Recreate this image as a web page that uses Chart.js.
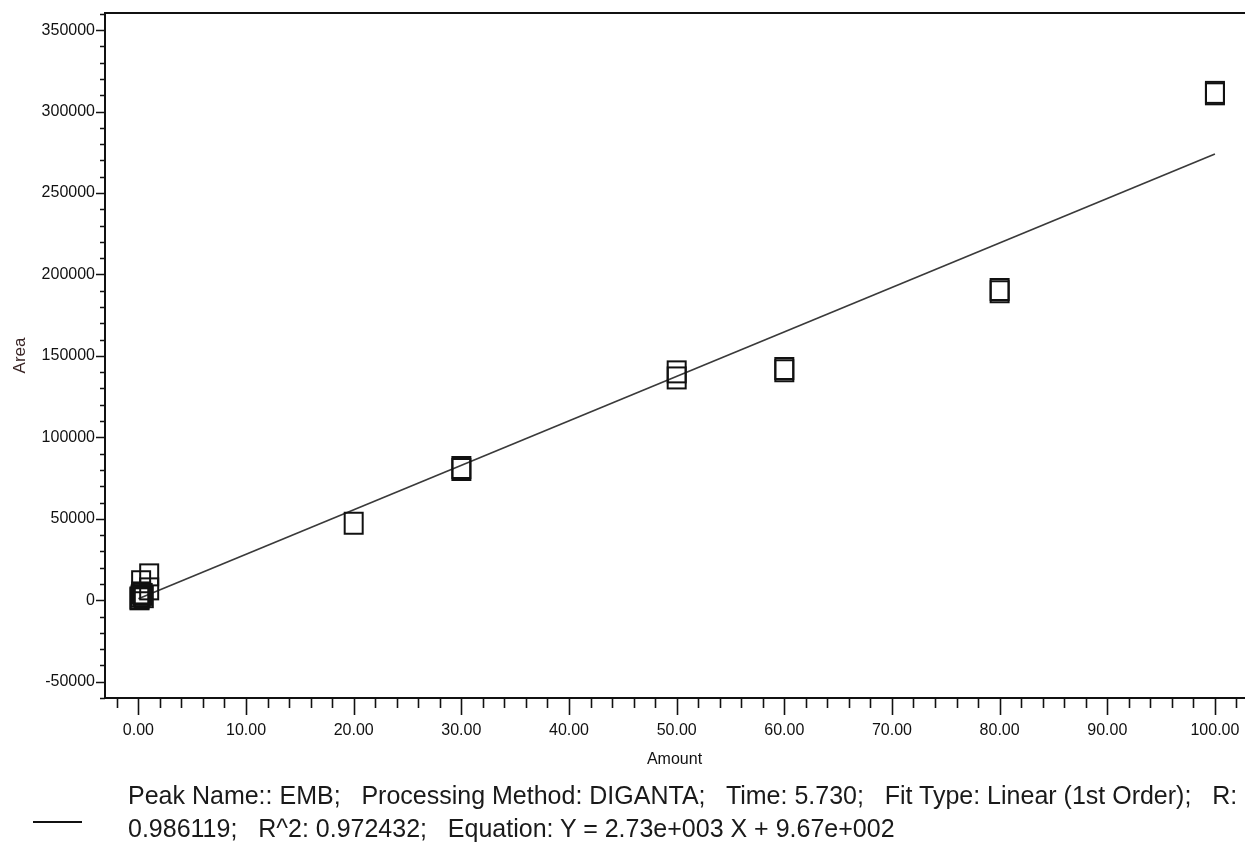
<!DOCTYPE html>
<html>
<head>
<meta charset="utf-8">
<title>EMB calibration</title>
<script src="https://cdn.jsdelivr.net/npm/chart.js@4.4.1/dist/chart.umd.min.js"></script>
<style>
  html, body { margin: 0; padding: 0; background: #fff; }
  #wrap { position: relative; width: 1245px; height: 853px; overflow: hidden; }
  #c { position: absolute; left: 0; top: 0; }
  #legend-line { position: absolute; left: 33px; top: 821px; width: 49px; height: 2px; background: #111; }
  #legend-text {
    position: absolute; left: 128px; top: 779px;
    font-family: "Liberation Sans", Arial, sans-serif; font-size: 25px; line-height: 33px;
    color: #1a1a1a; white-space: pre;
  }
</style>
</head>
<body>
<div id="wrap">
  <canvas id="c" width="1245" height="853"></canvas>
  <div id="legend-line"></div>
  <div id="legend-text"></div>
</div>
<script>
// Calibration standards: amount injected vs. integrated peak area
const amount = [0.1, 0.1, 0.2, 0.25, 0.4, 0.5, 0.25, 1.0, 1.0, 20, 30, 30, 50, 50, 60, 60, 80, 80, 100, 100];
const area   = [900, 1500, 2600, 11400, 3600, 2200, 4500, 15600, 7000, 47300, 81500, 80300, 140200, 136500, 142300, 140900, 190800, 189400, 311800, 310900];

// Linear (1st order) fit reported by the processing method
const fitSlope = 2.73e3;
const fitIntercept = 9.67e2;
const fitRange = [0, 100];

// Axis ticks
const xTickValues = [0, 10, 20, 30, 40, 50, 60, 70, 80, 90, 100];
const xTickLabels = ['0.00', '10.00', '20.00', '30.00', '40.00', '50.00', '60.00', '70.00', '80.00', '90.00', '100.00'];
const yTickValues = [-50000, 0, 50000, 100000, 150000, 200000, 250000, 300000, 350000];
const yTickLabels = ['-50000', '0', '50000', '100000', '150000', '200000', '250000', '300000', '350000'];
const xMinorStep = 2;
const yMinorStep = 10000;

const legendLines = [
  'Peak Name:: EMB;   Processing Method: DIGANTA;   Time: 5.730;   Fit Type: Linear (1st Order);   R:',
  '0.986119;   R^2: 0.972432;   Equation: Y = 2.73e+003 X + 9.67e+002'
];
document.getElementById('legend-text').textContent = legendLines.join('\n');

const FONT = '"Liberation Sans", Arial, sans-serif';

// open square marker, slightly taller than wide
function squareMarker(w, h, lw) {
  const cv = document.createElement('canvas');
  cv.width = w + lw * 2; cv.height = h + lw * 2;
  const g = cv.getContext('2d');
  g.strokeStyle = '#111';
  g.lineWidth = lw;
  g.strokeRect(lw, lw, w, h);
  return cv;
}
const marker = squareMarker(18, 21, 2);

const points = amount.map((x, i) => ({ x, y: area[i] }));
const fitPoints = fitRange.map(x => ({ x, y: fitSlope * x + fitIntercept }));

// frame top edge plus major / minor tick marks on both axes
const axisDecor = {
  id: 'axisDecor',
  afterDraw(chart) {
    const { ctx, chartArea, width } = chart;
    const xs = chart.scales.x, ys = chart.scales.y;
    ctx.save();
    ctx.strokeStyle = '#111';
    ctx.lineWidth = 2;
    ctx.beginPath();
    ctx.moveTo(chartArea.left - 1, chartArea.top);
    ctx.lineTo(width, chartArea.top);
    ctx.moveTo(chartArea.right - 1, chartArea.bottom);
    ctx.lineTo(width, chartArea.bottom);
    ctx.stroke();

    ctx.lineWidth = 1.6;
    ctx.beginPath();
    for (let v = Math.ceil(xs.min / xMinorStep) * xMinorStep; v <= xs.max; v += xMinorStep) {
      const px = Math.round(xs.getPixelForValue(v)) + 0.5;
      const major = xTickValues.includes(v);
      ctx.moveTo(px, chartArea.bottom);
      ctx.lineTo(px, chartArea.bottom + (major ? 17 : 10));
    }
    for (let v = Math.ceil(ys.min / yMinorStep) * yMinorStep; v <= ys.max; v += yMinorStep) {
      const py = Math.round(ys.getPixelForValue(v)) + 0.5;
      const major = yTickValues.includes(v);
      ctx.moveTo(chartArea.left, py);
      ctx.lineTo(chartArea.left - (major ? 9 : 5), py);
    }
    ctx.stroke();
    ctx.restore();
  }
};

new Chart(document.getElementById('c'), {
  type: 'scatter',
  data: {
    datasets: [
      {
        type: 'line',
        label: 'fit',
        data: fitPoints,
        borderColor: '#3a3a3a',
        borderWidth: 1.7,
        pointRadius: 0,
        fill: false,
        order: 2
      },
      {
        label: 'EMB',
        data: points,
        pointStyle: marker,
        pointRadius: 10,
        pointHoverRadius: 10,
        order: 1
      }
    ]
  },
  options: {
    responsive: false,
    animation: false,
    layout: { autoPadding: false, padding: { top: 13, right: 1, bottom: 83, left: 0 } },
    plugins: { legend: { display: false }, tooltip: { enabled: false } },
    scales: {
      x: {
        type: 'linear',
        min: -3.1,
        max: 102.7,
        afterFit(s) { s.height = 72; s.paddingLeft = 0; s.paddingRight = 0; },
        afterBuildTicks(s) { s.ticks = xTickValues.map(v => ({ value: v })); },
        grid: { drawOnChartArea: false, drawTicks: false },
        border: { display: true, color: '#111', width: 2 },
        ticks: {
          padding: 23,
          color: '#111',
          font: { family: FONT, size: 16 },
          maxRotation: 0,
          autoSkip: false,
          callback: (v) => xTickLabels[xTickValues.indexOf(v)]
        },
        title: {
          display: true,
          text: 'Amount',
          color: '#111',
          font: { family: FONT, size: 16 },
          padding: { top: 0, bottom: 1 }
        }
      },
      y: {
        type: 'linear',
        min: -60000,
        max: 360500,
        afterFit(s) { s.width = 105; s.paddingTop = 0; s.paddingBottom = 0; },
        afterBuildTicks(s) { s.ticks = yTickValues.map(v => ({ value: v })); },
        grid: { drawOnChartArea: false, drawTicks: false },
        border: { display: true, color: '#111', width: 2 },
        ticks: {
          padding: 10,
          color: '#111',
          font: { family: FONT, size: 16 },
          autoSkip: false,
          callback: (v) => yTickLabels[yTickValues.indexOf(v)]
        },
        title: {
          display: true,
          text: 'Area',
          color: '#3a2626',
          font: { family: FONT, size: 17 },
          padding: { top: 10, bottom: 0 }
        }
      }
    }
  },
  plugins: [axisDecor]
});
</script>
</body>
</html>
